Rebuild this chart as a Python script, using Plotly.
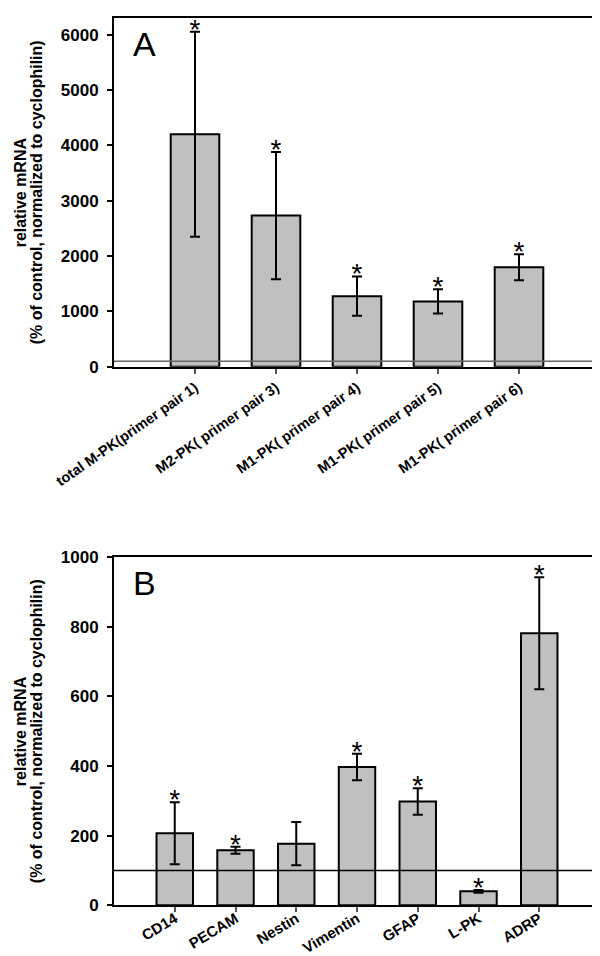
import plotly.graph_objects as go

# panel A: M-PK transcripts
cats_a = ['total M-PK(primer pair 1)', 'M2-PK( primer pair 3)', 'M1-PK( primer pair 4)',
          'M1-PK( primer pair 5)', 'M1-PK( primer pair 6)']
vals_a = [4200, 2730, 1275, 1180, 1795]
err_a = [1850, 1150, 355, 218, 235]
star_a = ['*', '*', '*', '*', '*']

# panel B: marker genes
cats_b = ['CD14', 'PECAM', 'Nestin', 'Vimentin', 'GFAP', 'L-PK', 'ADRP']
vals_b = [207, 158, 177, 397, 298, 40, 781]
err_b = [89, 10, 62, 38, 38, 4, 161]
star_b = ['*', '*', '', '*', '*', '*', '*']

control = 100

FONT = 'Liberation Sans, Arial, Helvetica, sans-serif'
W, H = 600, 956


def bars(cats, vals, errs, xa, ya):
    return go.Bar(
        x=cats, y=vals, xaxis=xa, yaxis=ya, width=0.6,
        marker=dict(color='#c0c0c0', line=dict(color='black', width=2)),
        error_y=dict(type='data', array=errs, visible=True, color='black',
                     thickness=2, width=5),
        hoverinfo='skip')


def stars(cats, vals, errs, marks, xa, ya):
    return go.Scatter(
        x=cats, y=[v + e for v, e in zip(vals, errs)], xaxis=xa, yaxis=ya,
        mode='text', text=marks, textposition='middle center',
        textfont=dict(family=FONT, size=28, color='black'),
        hoverinfo='skip')


fig = go.Figure()
fig.add_trace(bars(cats_a, vals_a, err_a, 'x', 'y'))
fig.add_trace(stars(cats_a, vals_a, err_a, star_a, 'x', 'y'))
fig.add_trace(bars(cats_b, vals_b, err_b, 'x2', 'y2'))
fig.add_trace(stars(cats_b, vals_b, err_b, star_b, 'x2', 'y2'))

xdom = [106 / W, 592 / W]
ydom_a = [1 - 358.7 / H, 1 - 10 / H]
ydom_b = [1 - 897.3 / H, 1 - 549 / H]

common_x = dict(type='category', showline=True, linecolor='black', linewidth=2,
                mirror=True, ticks='outside', ticklen=5, tickwidth=1.5,
                tickcolor='#555', showgrid=False, zeroline=False, automargin=False)
common_y = dict(showline=True, linecolor='black', linewidth=2, mirror=True,
                ticks='outside', ticklen=5, tickwidth=1.5, tickcolor='black',
                showgrid=False, zeroline=False, automargin=False, ticklabelstandoff=5,
                tickfont=dict(family=FONT, size=17, color='black', weight='bold'))

fig.update_layout(
    width=W, height=H, margin=dict(l=0, r=0, t=0, b=0),
    paper_bgcolor='white', plot_bgcolor='white', showlegend=False,
    xaxis=dict(common_x, domain=xdom, anchor='y', range=[-1, 5], tickangle=-35,
               tickfont=dict(family=FONT, size=14.5, color='black', weight='bold')),
    yaxis=dict(common_y, domain=ydom_a, anchor='x', range=[0, 6300], dtick=1000),
    xaxis2=dict(common_x, domain=xdom, anchor='y2', range=[-1, 7], tickangle=-31,
                ticklabelstandoff=-8,
                tickfont=dict(family=FONT, size=15, color='black', weight='bold')),
    yaxis2=dict(common_y, domain=ydom_b, anchor='x2', range=[0, 1000], dtick=200),
)

# control level lines
fig.add_shape(type='line', xref='x domain', yref='y', x0=0, x1=1, y0=control, y1=control,
              line=dict(color='#666', width=1.5))
fig.add_shape(type='line', xref='x2 domain', yref='y2', x0=0, x1=1, y0=control, y1=control,
              line=dict(color='black', width=1.5))

# panel letters
for letter, ya in [('A', 'y'), ('B', 'y2')]:
    fig.add_annotation(text=letter, xref='x domain' if ya == 'y' else 'x2 domain',
                       yref=ya + ' domain', x=0.035, y=0.985, xanchor='left', yanchor='top',
                       showarrow=False, font=dict(family=FONT, size=34, color='black'))

# y titles, two lines each
for dom in (ydom_a, ydom_b):
    yc = (dom[0] + dom[1]) / 2
    for xpx, txt in [(12, 'relative mRNA'), (28, '(% of control, normalized to cyclophilin)')]:
        fig.add_annotation(text=txt, xref='paper', yref='paper', x=xpx / W, y=yc,
                           xanchor='center', yanchor='middle', textangle=-90,
                           showarrow=False,
                           font=dict(family=FONT, size=16, color='black', weight='bold'))

fig.write_html('out.html')
